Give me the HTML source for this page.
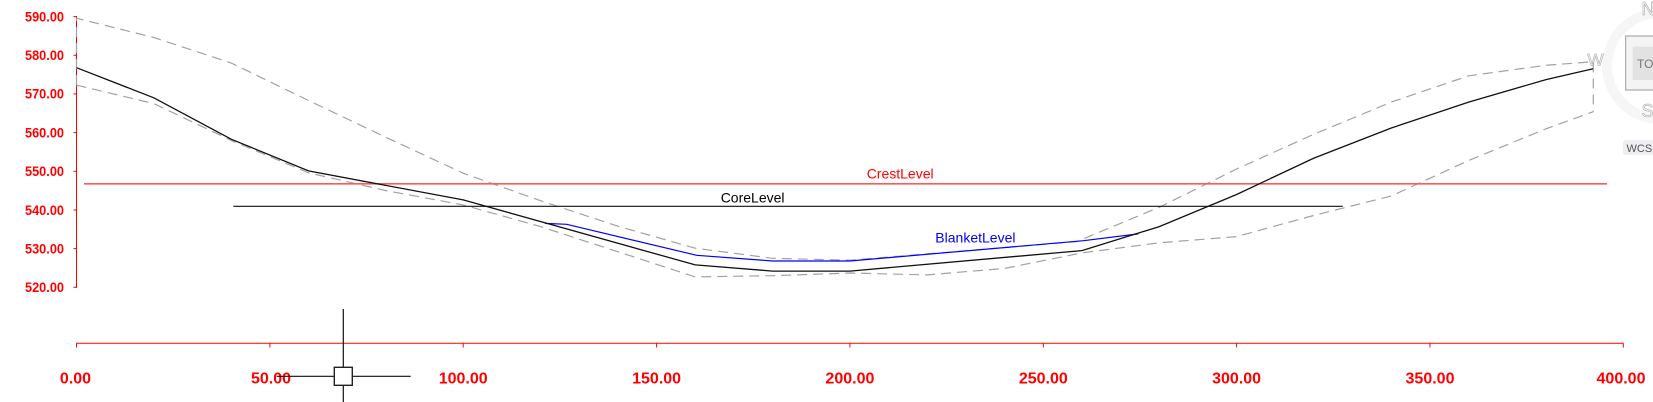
<!DOCTYPE html>
<html>
<head>
<meta charset="utf-8">
<style>
html,body{margin:0;padding:0;background:#fff;}
svg{display:block;}
text{font-family:"Liberation Sans", Arial, sans-serif;}
</style>
</head>
<body>
<svg width="1653" height="402" viewBox="0 0 1653 402" xmlns="http://www.w3.org/2000/svg">
<rect width="1653" height="402" fill="#fff"/>

<!-- compass ring -->
<circle cx="1660" cy="66" r="53" fill="none" stroke="#f6f6f6" stroke-width="10"/>
<rect x="1625.7" y="36" width="40" height="54" fill="#f4f4f4" stroke="#9a9a9a" stroke-width="1"/>
<rect x="1632.7" y="46.7" width="30" height="33.3" fill="#e2e2e2"/>
<text x="1637" y="68" font-size="12" fill="#777">TO</text>
<text x="1641.5" y="15" font-size="18" fill="#fff" stroke="#bbb" stroke-width="0.8">N</text>
<text x="1641.5" y="117" font-size="18" fill="#fff" stroke="#bbb" stroke-width="0.8">S</text>
<text x="1587.5" y="65.5" font-size="17" fill="#fff" stroke="#bbb" stroke-width="0.8">W</text>
<rect x="1623" y="140" width="40" height="15" rx="3" fill="#eeeef3"/>
<text x="1626.5" y="152" font-size="11" fill="#555">WCS</text>

<!-- Y axis -->
<g stroke="#ff0000" stroke-width="1" fill="none">
<line x1="76.5" y1="16" x2="76.5" y2="287.8"/>
<line x1="73.5" y1="16.6" x2="76.5" y2="16.6"/>
<line x1="73.5" y1="55.3" x2="76.5" y2="55.3"/>
<line x1="73.5" y1="93.9" x2="76.5" y2="93.9"/>
<line x1="73.5" y1="132.6" x2="76.5" y2="132.6"/>
<line x1="73.5" y1="171.3" x2="76.5" y2="171.3"/>
<line x1="73.5" y1="210.0" x2="76.5" y2="210.0"/>
<line x1="73.5" y1="248.6" x2="76.5" y2="248.6"/>
<line x1="73.5" y1="287.3" x2="76.5" y2="287.3"/>
</g>
<g font-size="13.5" font-weight="bold" fill="#ff0000">
<text x="25" y="21.4" textLength="39" lengthAdjust="spacingAndGlyphs">590.00</text>
<text x="25" y="60.1" textLength="39" lengthAdjust="spacingAndGlyphs">580.00</text>
<text x="25" y="98.7" textLength="39" lengthAdjust="spacingAndGlyphs">570.00</text>
<text x="25" y="137.4" textLength="39" lengthAdjust="spacingAndGlyphs">560.00</text>
<text x="25" y="176.1" textLength="39" lengthAdjust="spacingAndGlyphs">550.00</text>
<text x="25" y="214.8" textLength="39" lengthAdjust="spacingAndGlyphs">540.00</text>
<text x="25" y="253.4" textLength="39" lengthAdjust="spacingAndGlyphs">530.00</text>
<text x="25" y="292.1" textLength="39" lengthAdjust="spacingAndGlyphs">520.00</text>
</g>

<!-- X axis -->
<g stroke="#ff0000" stroke-width="1" fill="none">
<line x1="76.5" y1="343.3" x2="1623.5" y2="343.3"/>
<line x1="76.5" y1="343.3" x2="76.5" y2="347.5"/>
<line x1="269.9" y1="343.3" x2="269.9" y2="347.5"/>
<line x1="463.2" y1="343.3" x2="463.2" y2="347.5"/>
<line x1="656.6" y1="343.3" x2="656.6" y2="347.5"/>
<line x1="849.9" y1="343.3" x2="849.9" y2="347.5"/>
<line x1="1043.3" y1="343.3" x2="1043.3" y2="347.5"/>
<line x1="1236.6" y1="343.3" x2="1236.6" y2="347.5"/>
<line x1="1430.0" y1="343.3" x2="1430.0" y2="347.5"/>
<line x1="1623.3" y1="343.3" x2="1623.3" y2="347.5"/>
</g>
<g font-size="16" font-weight="bold" fill="#ff0000" text-anchor="middle">
<text x="75.5" y="383.5">0.00</text>
<text x="271" y="383.5">50.00</text>
<text x="463.2" y="383.5">100.00</text>
<text x="656.6" y="383.5">150.00</text>
<text x="849.9" y="383.5">200.00</text>
<text x="1043.3" y="383.5">250.00</text>
<text x="1236.6" y="383.5">300.00</text>
<text x="1430.0" y="383.5">350.00</text>
<text x="1621" y="383.5">400.00</text>
</g>

<!-- dashed envelope -->
<g fill="none" stroke="#a2a2a2" stroke-width="1.2" stroke-dasharray="10,6">
<polyline points="76.5,85.1 76.5,18.2 153.8,37.5 231.2,63.0 308.5,100.5 385.9,137.3 463.2,173.2 540.5,200.7 617.9,226.2 695.2,248.2 772.6,258.3 849.9,260.2 1076.5,241.7 1160.0,206.9 1236.6,169.0 1313.9,134.2 1391.3,102.1 1468.6,75.8 1546.0,65.3 1593.3,61.7 1593.3,111.7"/>
<polyline points="76.5,85.1 153.8,103.6 231.2,140.4 308.5,172.8 385.9,190.6 463.2,204.9 540.5,226.6 695.2,276.9 772.6,275.7 849.9,273.0 927.2,274.9 1004.6,268.4 1081.9,252.9 1159.3,242.8 1236.6,236.6 1313.9,215.4 1391.3,196.0 1468.6,160.5 1546.0,128.8 1593.3,111.7"/>
</g>

<!-- crest / core lines -->
<line x1="84" y1="183.8" x2="1607" y2="183.8" stroke="#ff5a5a" stroke-width="1.6"/>
<line x1="233.3" y1="206.3" x2="1342.7" y2="206.3" stroke="#111" stroke-width="1.2"/>

<!-- blanket -->
<polyline fill="none" stroke="#0000ff" stroke-width="1.2" points="545,223.4 566.7,224.3 696.7,255.3 772.6,261.0 849.9,261.0 1083.5,240.7 1138.4,233.9"/>

<!-- ground -->
<polyline fill="none" stroke="#111" stroke-width="1.3" points="76.5,67.7 153.8,97.8 231.2,139.2 308.5,170.9 463.2,199.9 695.2,264.9 772.6,271.1 849.9,271.1 1081.9,250.6 1159.3,226.6 1236.6,194.5 1313.9,158.1 1391.3,128.0 1468.6,102.1 1546.0,79.6 1593.1,68.8"/>

<!-- labels -->
<text x="866.7" y="178.7" font-size="14" fill="#ff0000">CrestLevel</text>
<text x="720.7" y="202.7" font-size="14" fill="#000">CoreLevel</text>
<text x="935.3" y="242.7" font-size="14" fill="#0000ff">BlanketLevel</text>

<!-- cursor crosshair -->
<g stroke="#111" stroke-width="1.2">
<line x1="343.3" y1="309" x2="343.3" y2="402"/>
<line x1="276.7" y1="376.3" x2="410.7" y2="376.3"/>
</g>
<rect x="334.3" y="367.3" width="18" height="18" fill="#fff" stroke="#222" stroke-width="1.4"/>
</svg>
</body>
</html>
